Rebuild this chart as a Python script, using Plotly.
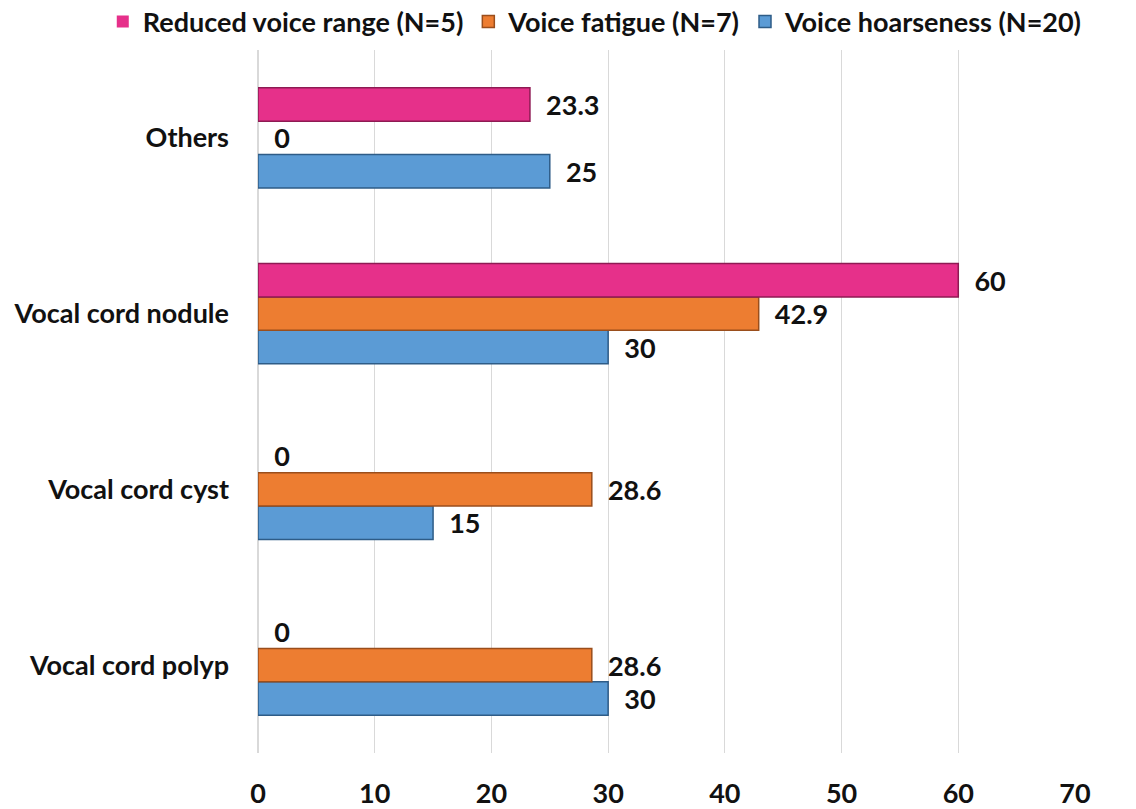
import plotly.graph_objects as go

categories = ["Vocal cord polyp", "Vocal cord cyst", "Vocal cord nodule", "Others"]
hoarseness = [30, 15, 30, 25]
fatigue = [28.6, 28.6, 42.9, 0]
reduced_range = [0, 0, 60, 23.3]

series_names = ["Voice hoarseness (N=20)", "Voice fatigue (N=7)", "Reduced voice range (N=5)"]
series_values = [hoarseness, fatigue, reduced_range]
colors = ["#5B9BD5", "#ED7D31", "#E6308A"]
edge_colors = ["#2E5C87", "#9A4E1C", "#8E1A53"]
x_ticks = [0, 10, 20, 30, 40, 50, 60, 70]

FONT = "Lato, Arial, sans-serif"
FS = 27

fig = go.Figure()
for name, vals, c, ec in zip(series_names, series_values, colors, edge_colors):
    fig.add_trace(go.Bar(
        y=categories, x=vals, name=name, orientation="h",
        marker=dict(color=c, line=dict(color=ec, width=[1.5 if v > 0 else 0 for v in vals])),
        text=[("\u00a0\u00a0%g" % v) for v in vals], textposition="outside",
        textfont=dict(family=FONT, size=FS, color="#111111", weight="bold"),
        cliponaxis=False,
    ))

fig.update_layout(
    width=1136, height=809,
    margin=dict(l=258, r=61, t=50, b=56, autoexpand=False),
    paper_bgcolor="white", plot_bgcolor="white",
    barmode="group", bargap=0.43, bargroupgap=0,
    font=dict(family=FONT, size=FS, color="#111111", weight="bold"),
    legend=dict(orientation="h", x=-0.19, xanchor="left", xref="paper",
                y=1.04, yanchor="middle", yref="paper", traceorder="reversed",
                font=dict(family=FONT, size=27, weight="bold"),
                itemwidth=30),
    xaxis=dict(range=[0, 70], tickvals=x_ticks, showgrid=True, gridcolor="#D9D9D9",
               gridwidth=1, zeroline=True, zerolinecolor="#D9D9D9", showline=False,
               ticks="", ticklabelstandoff=22, automargin=False,
               tickfont=dict(family=FONT, size=FS, weight="bold")),
    yaxis=dict(showgrid=False, ticks="", ticklabelstandoff=28, automargin=False,
               tickfont=dict(family=FONT, size=FS, weight="bold")),
    showlegend=True,
)

fig.write_html("out.html")
